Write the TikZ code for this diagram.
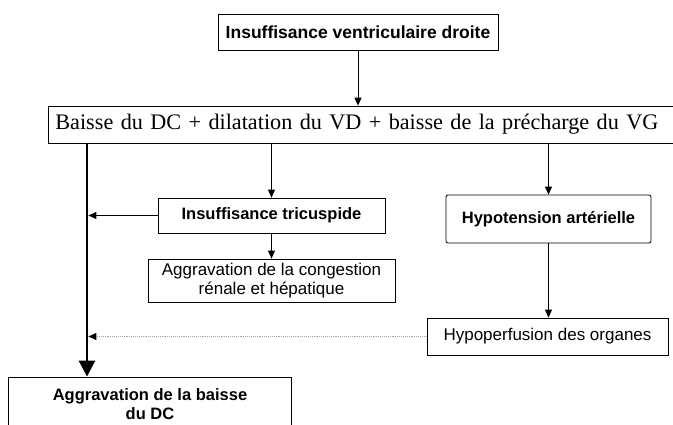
\documentclass[tikz,border=0pt]{standalone}
\usepackage{fontspec}
\setmainfont{Liberation Serif}
\setsansfont{Liberation Sans}
\usetikzlibrary{arrows.meta,calc}

\begin{document}
\begin{tikzpicture}[x=1pt,y=-1pt,
	box/.style={draw,line width=0.8pt,inner sep=0pt},
	boldbox/.style={box,font=\sffamily\bfseries\fontsize{16.5}{19}\selectfont},
	plainbox/.style={box,font=\sffamily\fontsize{17}{18.5}\selectfont},
	arr/.style={line width=0.9pt,-{Triangle[length=8pt,width=7pt]}},
	trunkarr/.style={line width=2.8pt,-{Triangle[length=16pt,width=16pt]}},
	dotarr/.style={arr,gray!70,densely dotted,-{Triangle[length=8pt,width=7pt,black]}}]
\useasboundingbox (0,0) rectangle (673,425);
%top
\node[boldbox,font=\sffamily\bfseries\fontsize{17.5}{20}\selectfont,
	minimum width=280,minimum height=36] (ivd) at (358,32) {Insuffisance ventriculaire droite};
\node[box,anchor=west,text width=645,align=left,inner xsep=7,minimum height=37,
	font=\rmfamily\fontsize{22.2}{26}\selectfont] (baisse) at (48,124.5)
	{Baisse du DC + dilatation du VD + baisse de la précharge du VG};
\draw[arr] (ivd.south) -- (ivd.south |- baisse.north);
%middle
\node[boldbox,minimum width=227,minimum height=35] (tric) at (271.5,215.5) {Insuffisance tricuspide};
\node[plainbox,minimum width=247,minimum height=43,align=center] (cong) at (271.5,280.5)
	{Aggravation de la congestion\\rénale et hépatique};
\node[boldbox,rounded corners=2pt,minimum width=205,minimum height=48] (hypot) at (548.5,219) {Hypotension artérielle};
\node[plainbox,minimum width=241,minimum height=37] (hypop) at (547.5,336.5) {Hypoperfusion des organes};
\draw[arr] (baisse.south -| tric.north) -- (tric.north);
\draw[arr] (tric.south) -- (cong.north);
\draw[arr] (baisse.south -| hypot.north) -- (hypot.north);
\draw[arr] (hypot.south) -- (hypot.south |- hypop.north);
%bottom
\node[boldbox,minimum width=283,minimum height=54,align=center] (aggr) at (150,404)
	{Aggravation de la baisse\\du DC};
\coordinate (trunk) at (87,0);
\draw[trunkarr] (baisse.south -| trunk) -- (trunk |- aggr.north);
\draw[arr,shorten >=1.4pt] (tric.west) -- (tric.west -| trunk);
\draw[dotarr,shorten >=1.4pt] (hypop.west) -- (hypop.west -| trunk);
\end{tikzpicture}
\end{document}
